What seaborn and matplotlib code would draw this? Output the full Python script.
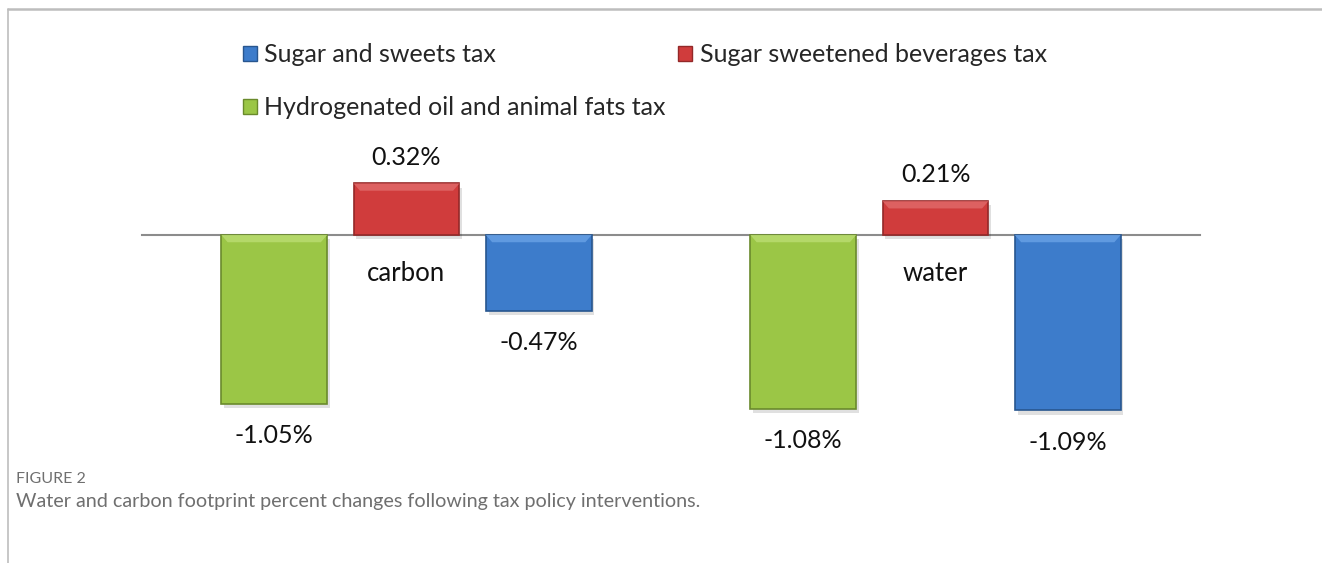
import matplotlib
matplotlib.use("Agg")
import matplotlib.pyplot as plt
import matplotlib.patheffects as pe
from matplotlib.patches import Patch, Polygon
from matplotlib.lines import Line2D
import seaborn as sns
import pandas as pd

# Footprint categories and per-policy percent changes
footprints = ["carbon", "water"]
policies = [
    "Hydrogenated oil and animal fats tax",
    "Sugar sweetened beverages tax",
    "Sugar and sweets tax",
]
hydrogenated_fats = [-1.05, -1.08]
ssb_tax = [0.32, 0.21]
sugar_sweets = [-0.47, -1.09]

colors = {
    policies[0]: "#9bc646",
    policies[1]: "#d03c3c",
    policies[2]: "#3d7ccb",
}
edges = {
    policies[0]: "#6a8a2c",
    policies[1]: "#932828",
    policies[2]: "#28568f",
}
highlights = {
    policies[0]: "#b9dc70",
    policies[1]: "#e06868",
    policies[2]: "#67a0e4",
}

df = pd.DataFrame({
    "footprint": footprints * 3,
    "policy": [p for p in policies for _ in footprints],
    "change": hydrogenated_fats + ssb_tax + sugar_sweets,
})

W, H = 1322, 563
fig = plt.figure(figsize=(W / 100, H / 100), dpi=100)
sns.set_style("white")
plt.rcParams["font.family"] = ["Lato", "DejaVu Sans"]

# axes placed in pixel terms: zero line at y=235, 161 px per percent
ymin, ymax = -1.25, 0.5
ppu = 161.0
top_px = 235 - ymax * ppu
bot_px = 235 - ymin * ppu
ax = fig.add_axes([142 / W, (H - bot_px) / H, 1058 / W, (bot_px - top_px) / H])

sns.barplot(
    data=df, x="footprint", y="change", hue="policy",
    hue_order=policies, order=footprints, palette=colors, saturation=1,
    width=0.75, gap=0.2, ax=ax, legend=False, errorbar=None,
    linewidth=1.2,
)
ax.set_xlim(-0.5, 1.5)
ax.set_ylim(ymin, ymax)

shadow = [pe.SimplePatchShadow(offset=(2, -3), alpha=0.12, shadow_rgbFace="black"), pe.Normal()]
bev_x = 0.012   # bevel inset in x data units
bev_y = 0.045   # bevel inset in y data units
for policy, cont in zip(policies, ax.containers):
    for bar in cont:
        bar.set_edgecolor(edges[policy])
        bar.set_path_effects(shadow)
        bar.set_zorder(3)
        v = bar.get_height()
        x0 = bar.get_x()
        x1 = x0 + bar.get_width()
        ytop = max(v, 0)
        # light bevel along the top edge
        ax.add_patch(Polygon([(x0, ytop), (x1, ytop), (x1 - bev_x, ytop - bev_y),
                              (x0 + bev_x, ytop - bev_y)], closed=True,
                             facecolor=highlights[policy], edgecolor="none",
                             alpha=0.85, zorder=3.5))
        x = x0 + bar.get_width() / 2
        off = 19 if v >= 0 else -23
        ax.annotate(f"{v:.2f}%", (x, v), xytext=(0, off), textcoords="offset points",
                    ha="center", va="center", fontsize=18, color="#111111",
                    annotation_clip=False)

for s in ["top", "right", "left"]:
    ax.spines[s].set_visible(False)
ax.spines["bottom"].set_position(("data", 0))
ax.spines["bottom"].set_color("#8c8c8c")
ax.spines["bottom"].set_linewidth(1.5)
ax.spines["bottom"].set_zorder(2)
ax.set_yticks([])
ax.set_xlabel("")
ax.set_ylabel("")
ax.tick_params(axis="x", length=0, pad=19, labelsize=18.5, labelcolor="#111111")
ax.patch.set_alpha(0)

# legend: two columns, Sugar and SSB on first row
handles = [Patch(facecolor=colors[p], edgecolor=edges[p], linewidth=1) for p in policies]
order = [2, 0, 1]
fig.legend([handles[i] for i in order], [policies[i] for i in order],
           loc="upper left", bbox_to_anchor=(243 / W, 1 - 43 / H), ncol=2,
           frameon=False, fontsize=18, handlelength=0.55, handleheight=0.55,
           handletextpad=0.3, columnspacing=0.5, labelspacing=1.2,
           borderpad=0, borderaxespad=0)

# page frame lines
fig.add_artist(Line2D([8 / W, 1], [1 - 9 / H, 1 - 9 / H], color="#bdbdbd", lw=1.8))
fig.add_artist(Line2D([8 / W, 8 / W], [0, 1 - 9 / H], color="#bdbdbd", lw=1.2))

fig.text(16 / W, 1 - 479 / H, "FIGURE 2", fontsize=11.5, color="#6f6f6f", va="center", ha="left")
fig.text(16 / W, 1 - 502 / H, "Water and carbon footprint percent changes following tax policy interventions.",
         fontsize=14.2, color="#6f6f6f", va="center", ha="left")

fig.savefig("out.png", dpi=100)
